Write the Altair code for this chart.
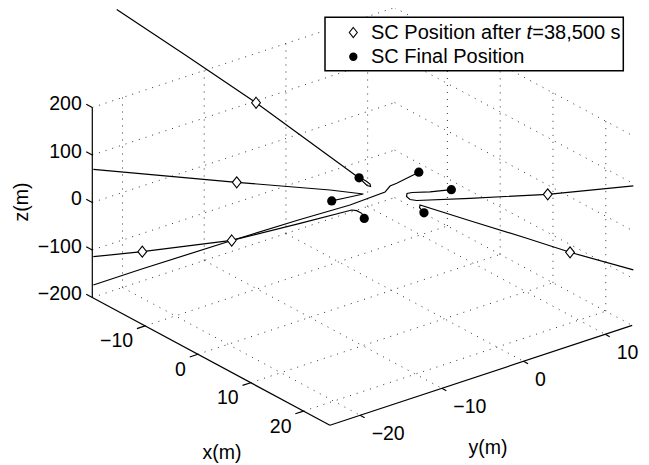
import altair as alt
import pandas as pd

# ---------------- axis limits and ticks (m) ----------------
XLIM = [-20.0, 25.0]
YLIM = [-23.7, 13.3]
ZLIM = [-200.0, 200.0]
x_ticks = [-10, 0, 10, 20]
y_ticks = [-20, -10, 0, 10]
z_ticks = [-200, -100, 0, 100, 200]

# ---------------- trajectories (x, y, z in m) ----------------
sc1_x = [-19.80, -14.81, -9.764, -4.432, -2.630, -1.838, -1.549, -1.513, -1.765]
sc1_y = [-20.84, -15.58, -10.275, -4.664, -2.768, -1.934, -1.630, -1.592, -1.858]
sc1_z = [391.5, 294.3, 194.9, 81.3, 42.7, 30.1, 23.8, 18.5, 20.6]

sc2_x = [-21.49, -11.155, -4.432, -2.032, -3.351]
sc2_y = [-22.61, -11.739, -4.664, -2.138, -3.526]
sc2_z = [54.7, 27.4, 11.2, 2.7, -5.7]

sc3_x = [-21.49, -17.96, -11.515, -6.593, -2.868, -2.508, -2.147]
sc3_y = [-22.61, -18.90, -12.118, -6.938, -3.018, -2.639, -2.260]
sc3_z = [-129.2, -118.7, -94.7, -58.9, -30.9, -32.4, -37.9]

sc4_x = [-21.49, -18.00, -11.515, -6.593, -2.991, -0.468, -0.108, 0.375, 1.095]
sc4_y = [-22.61, -18.94, -12.118, -6.938, -3.147, -0.493, -0.114, 0.394, 1.153]
sc4_z = [-188.8, -155.1, -95.1, -50.9, -20.4, 6.9, 19.6, 25.3, 35.8]

sc5_x = [17.42, 11.256, 5.657, 1.816, 1.333, 1.081, 1.117, 1.477, 2.774]
sc5_y = [18.34, 11.845, 5.953, 1.911, 1.403, 1.137, 1.175, 1.555, 2.919]
sc5_z = [19.6, 2.1, -6.3, -10.9, -8.8, -2.5, 3.8, 5.9, 7.4]

sc6_x = [17.42, 12.863, 9.743, 5.657, 2.054, 2.018]
sc6_y = [18.34, 13.536, 10.252, 5.953, 2.161, 2.123]
sc6_z = [-157.2, -120.0, -90.5, -53.5, -20.4, -25.7]

# SC position after t = 38,500 s
mid_x = [-9.764, -11.155, -17.96, -11.515, 11.256, 12.863]
mid_y = [-10.275, -11.739, -18.90, -12.118, 11.845, 13.536]
mid_z = [194.9, 27.4, -118.7, -95.1, 2.1, -120.0]

# SC final position
fin_x = [-6.15, -3.08, 3.08, -3.08, 3.08, 6.15]
fin_y = [0.0, -5.33, -5.33, 5.33, 5.33, 0.0]
fin_z = [0.0, 0.0, 0.0, 0.0, 0.0, 0.0]

# ---------------- view (orthographic projection to page pixels) ----------------
P0 = (92.3, 297.5)      # page position of (XLIM[0], YLIM[0], ZLIM[0])
EX = (5.28, 2.84)       # pixels per metre of x
EY = (8.17, -2.70)      # pixels per metre of y
EZ = -0.475             # pixels per metre of z (vertical)
W, H = 633, 455
FONT = "Liberation Sans"


def proj(x, y, z):
    dx, dy, dz = x - XLIM[0], y - YLIM[0], z - ZLIM[0]
    return (P0[0] + dx * EX[0] + dy * EY[0],
            P0[1] + dx * EX[1] + dy * EY[1] + dz * EZ)


xs = alt.Scale(domain=[8, 8 + W], nice=False, zero=False)
ys = alt.Scale(domain=[8, 8 + H], reverse=True, nice=False, zero=False)


def X(f):
    return alt.X(f, type="quantitative", scale=xs, axis=None)


def Y(f):
    return alt.Y(f, type="quantitative", scale=ys, axis=None)


def seg_rows(pairs):
    rows = []
    for a, b in pairs:
        (x1, y1), (x2, y2) = proj(*a), proj(*b)
        rows.append(dict(px=x1, py=y1, px2=x2, py2=y2))
    return pd.DataFrame(rows)


xmin, xmax = XLIM
ymin, ymax = YLIM
zmin, zmax = ZLIM

# dotted grid on the back walls and floor
grid_pairs = []
for y in y_ticks:
    grid_pairs.append(((xmin, y, zmin), (xmin, y, zmax)))
    grid_pairs.append(((xmin, y, zmin), (xmax, y, zmin)))
for z in z_ticks:
    grid_pairs.append(((xmin, ymin, z), (xmin, ymax, z)))
    grid_pairs.append(((xmin, ymax, z), (xmax, ymax, z)))
for x in x_ticks:
    grid_pairs.append(((x, ymax, zmin), (x, ymax, zmax)))
    grid_pairs.append(((x, ymin, zmin), (x, ymax, zmin)))
grid_df = seg_rows(grid_pairs)

# solid axes and tick marks
axis_pairs = [((xmin, ymin, zmin), (xmax, ymin, zmin)),
              ((xmax, ymin, zmin), (xmax, ymax, zmin)),
              ((xmin, ymin, zmin), (xmin, ymin, zmax))]
for z in z_ticks:
    axis_pairs.append(((xmin, ymin, z), (xmin - 1.15, ymin, z)))
for x in x_ticks:
    axis_pairs.append(((x, ymin, zmin), (x, ymin - 1.0, zmin)))
for y in y_ticks:
    axis_pairs.append(((xmax, y, zmin), (xmax + 0.85, y, zmin)))
axis_df = seg_rows(axis_pairs)


def fmt(v):
    return str(v).replace("-", "\u2212")


lab_rows = []
for x in x_ticks:
    sx, sy = proj(x, ymin, zmin)
    lab_rows.append(dict(px=sx - 12, py=sy + 15.5, label=fmt(x), al="right"))
for y in y_ticks:
    sx, sy = proj(xmax, y, zmin)
    lab_rows.append(dict(px=sx + 11.5, py=sy + 19, label=fmt(y), al="left"))
for z in z_ticks:
    sx, sy = proj(xmin, ymin, z)
    lab_rows.append(dict(px=sx - 10.5, py=sy - 3.5, label=fmt(z), al="right"))
lab_df = pd.DataFrame(lab_rows)

# trajectories
trajs = [(sc1_x, sc1_y, sc1_z), (sc2_x, sc2_y, sc2_z), (sc3_x, sc3_y, sc3_z),
         (sc4_x, sc4_y, sc4_z), (sc5_x, sc5_y, sc5_z), (sc6_x, sc6_y, sc6_z)]
trows = []
for k, (tx, ty, tz) in enumerate(trajs):
    pts = list(zip(tx, ty, tz)) + [(fin_x[k], fin_y[k], fin_z[k])]
    for i, p in enumerate(pts):
        sx, sy = proj(*p)
        trows.append(dict(sc=f"SC{k + 1}", i=i, px=sx, py=sy))
traj_df = pd.DataFrame(trows)

mid_df = pd.DataFrame([dict(zip(("px", "py"), proj(*p))) for p in zip(mid_x, mid_y, mid_z)])
fin_df = pd.DataFrame([dict(zip(("px", "py"), proj(*p))) for p in zip(fin_x, fin_y, fin_z)])

DIAMOND = "M0,-1L0.8,0L0,1L-0.8,0Z"

grid = alt.Chart(grid_df).mark_rule(color="#333333", strokeWidth=1, strokeDash=[1, 6]).encode(
    x=X("px"), y=Y("py"), x2="px2", y2="py2")
axes = alt.Chart(axis_df).mark_rule(color="black", strokeWidth=1.2).encode(
    x=X("px"), y=Y("py"), x2="px2", y2="py2")
lines = alt.Chart(traj_df).mark_line(color="black", strokeWidth=1.2).encode(
    x=X("px"), y=Y("py"), detail="sc:N", order="i:Q")
diamonds = alt.Chart(mid_df).mark_point(shape=DIAMOND, filled=True, fill="white", stroke="black",
                                        strokeWidth=1.1, size=121, opacity=1).encode(x=X("px"), y=Y("py"))
dots = alt.Chart(fin_df).mark_circle(color="black", size=85, opacity=1).encode(x=X("px"), y=Y("py"))

labels_r = alt.Chart(lab_df[lab_df.al == "right"]).mark_text(
    align="right", baseline="middle", font=FONT, fontSize=19.5, color="black").encode(
    x=X("px"), y=Y("py"), text="label:N")
labels_l = alt.Chart(lab_df[lab_df.al == "left"]).mark_text(
    align="left", baseline="middle", font=FONT, fontSize=19.5, color="black").encode(
    x=X("px"), y=Y("py"), text="label:N")

one = pd.DataFrame({"a": [0]})


def txt(s, x, y, angle=0, align="center", size=19.5, style="normal"):
    return alt.Chart(one).mark_text(text=s, align=align, baseline="middle", angle=angle, font=FONT,
                                    fontSize=size, fontStyle=style, color="black").encode(
        x=alt.value(x), y=alt.value(y))


titles = [txt("x(m)", 214, 445), txt("y(m)", 480, 440), txt("z(m)", 14, 194, angle=270)]

leg_box = alt.Chart(one).mark_rect(fill="white", stroke="black", strokeWidth=1.5).encode(
    x=alt.value(317), x2=alt.value(615.3), y=alt.value(9.3), y2=alt.value(62.7))
leg_d = alt.Chart(one).mark_point(shape=DIAMOND, filled=True, fill="white", stroke="black",
                                  strokeWidth=1.1, size=100, opacity=1).encode(
    x=alt.value(345.3), y=alt.value(24.5))
leg_c = alt.Chart(one).mark_circle(color="black", size=70, opacity=1).encode(
    x=alt.value(345.3), y=alt.value(48.7))
leg_t = [txt("SC Position after ", 363, 24.5, align="left", size=20),
         txt("t", 518.6, 24.5, align="left", size=20, style="italic"),
         txt("=38,500 s", 524.2, 24.5, align="left", size=20),
         txt("SC Final Position", 363, 48.7, align="left", size=20)]

chart = alt.layer(grid, axes, lines, diamonds, dots, labels_r, labels_l, *titles,
                  leg_box, leg_d, leg_c, *leg_t).properties(
    width=W, height=H, padding=0, autosize=alt.AutoSizeParams(type="none")
).configure_view(stroke=None)

chart.save("out.html", embed_options={"renderer": "svg", "actions": False})
